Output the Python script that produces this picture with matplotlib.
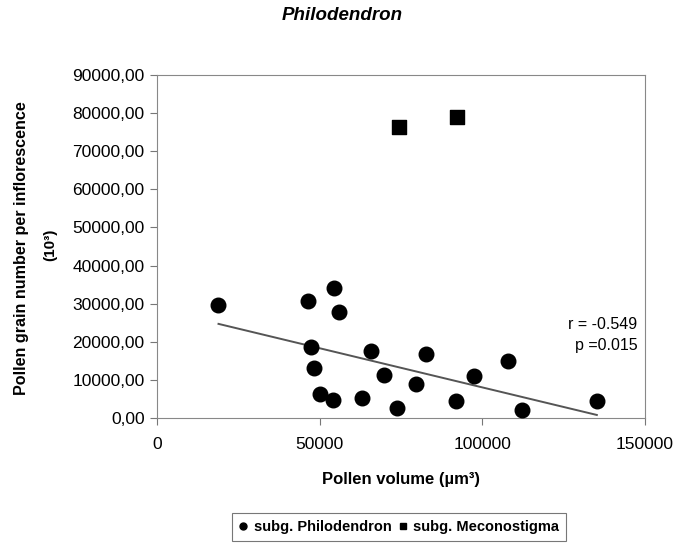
import matplotlib.pyplot as plt
from matplotlib.lines import Line2D

plt.rcParams['font.family'] = ['Liberation Sans', 'DejaVu Sans']

# subg. Philodendron (circles)
phil_vol = [18700, 46500, 54500, 55900, 47400, 48200, 50000, 54000, 62900, 65700,
            69700, 73700, 79500, 82600, 92000, 97400, 107800, 112200, 135200]
phil_pollen = [29700, 30800, 34100, 27900, 18600, 13200, 6200, 4600, 5300, 17700,
               11200, 2500, 8800, 16800, 4500, 11100, 14900, 2100, 4400]

# subg. Meconostigma (squares)
mec_vol = [74300, 92100]
mec_pollen = [76400, 78900]

# regression line ends
trend_vol = [18900, 135200]
trend_pollen = [24700, 800]

y_ticks = [0, 10000, 20000, 30000, 40000, 50000, 60000, 70000, 80000, 90000]
x_ticks = [0, 50000, 100000, 150000]

fig = plt.figure(figsize=(6.8, 5.45), dpi=100)
ax = fig.add_axes([0.2309, 0.233, 0.7176, 0.6294])

ax.plot(trend_vol, trend_pollen, color='#555555', lw=1.4, zorder=2)
ax.scatter(phil_vol, phil_pollen, s=110, marker='o', color='black', zorder=3)
ax.scatter(mec_vol, mec_pollen, s=110, marker='s', color='black', zorder=3)

ax.set_xlim(0, 150000)
ax.set_ylim(0, 90000)
ax.set_xticks(x_ticks)
ax.set_xticklabels([str(v) for v in x_ticks])
ax.set_yticks(y_ticks)
ax.set_yticklabels([f'{v},00' for v in y_ticks])
ax.tick_params(direction='out', length=5, width=0.8, color='#777777', labelsize=12.5)
ax.tick_params(axis='y', pad=4)
ax.tick_params(axis='x', pad=9)
for s in ax.spines.values():
    s.set_color('#888888')
    s.set_linewidth(0.8)

ax.text(0.984, 0.242, 'r = -0.549\np =0.015', transform=ax.transAxes, ha='right', va='center',
        fontsize=11.5, linespacing=1.45)

ax.set_xlabel('Pollen volume (µm³)', fontsize=12, fontweight='bold', labelpad=14)
fig.text(0.031, 0.545, 'Pollen grain number per inflorescence', rotation=90, ha='center', va='center',
         fontsize=11.6, fontweight='bold')
fig.text(0.074, 0.55, '(10³)', rotation=90, ha='center', va='center',
         fontsize=11, fontweight='bold')

fig.text(0.503, 0.972, 'Philodendron', ha='center', va='center', fontsize=13.5,
         fontweight='bold', style='italic')

handles = [Line2D([], [], marker='o', ls='', color='black', markersize=5),
           Line2D([], [], marker='s', ls='', color='black', markersize=5)]
leg = fig.legend(handles, ['subg. Philodendron', 'subg. Meconostigma'], loc='center',
                 bbox_to_anchor=(0.587, 0.033), ncol=2, frameon=True, fancybox=False,
                 handlelength=0.6, handletextpad=0.4, columnspacing=0.5, borderpad=0.45,
                 prop={'size': 10.5, 'weight': 'bold'})
leg.get_frame().set_edgecolor('#555555')
leg.get_frame().set_linewidth(0.8)

fig.savefig('out.png', dpi=100)
